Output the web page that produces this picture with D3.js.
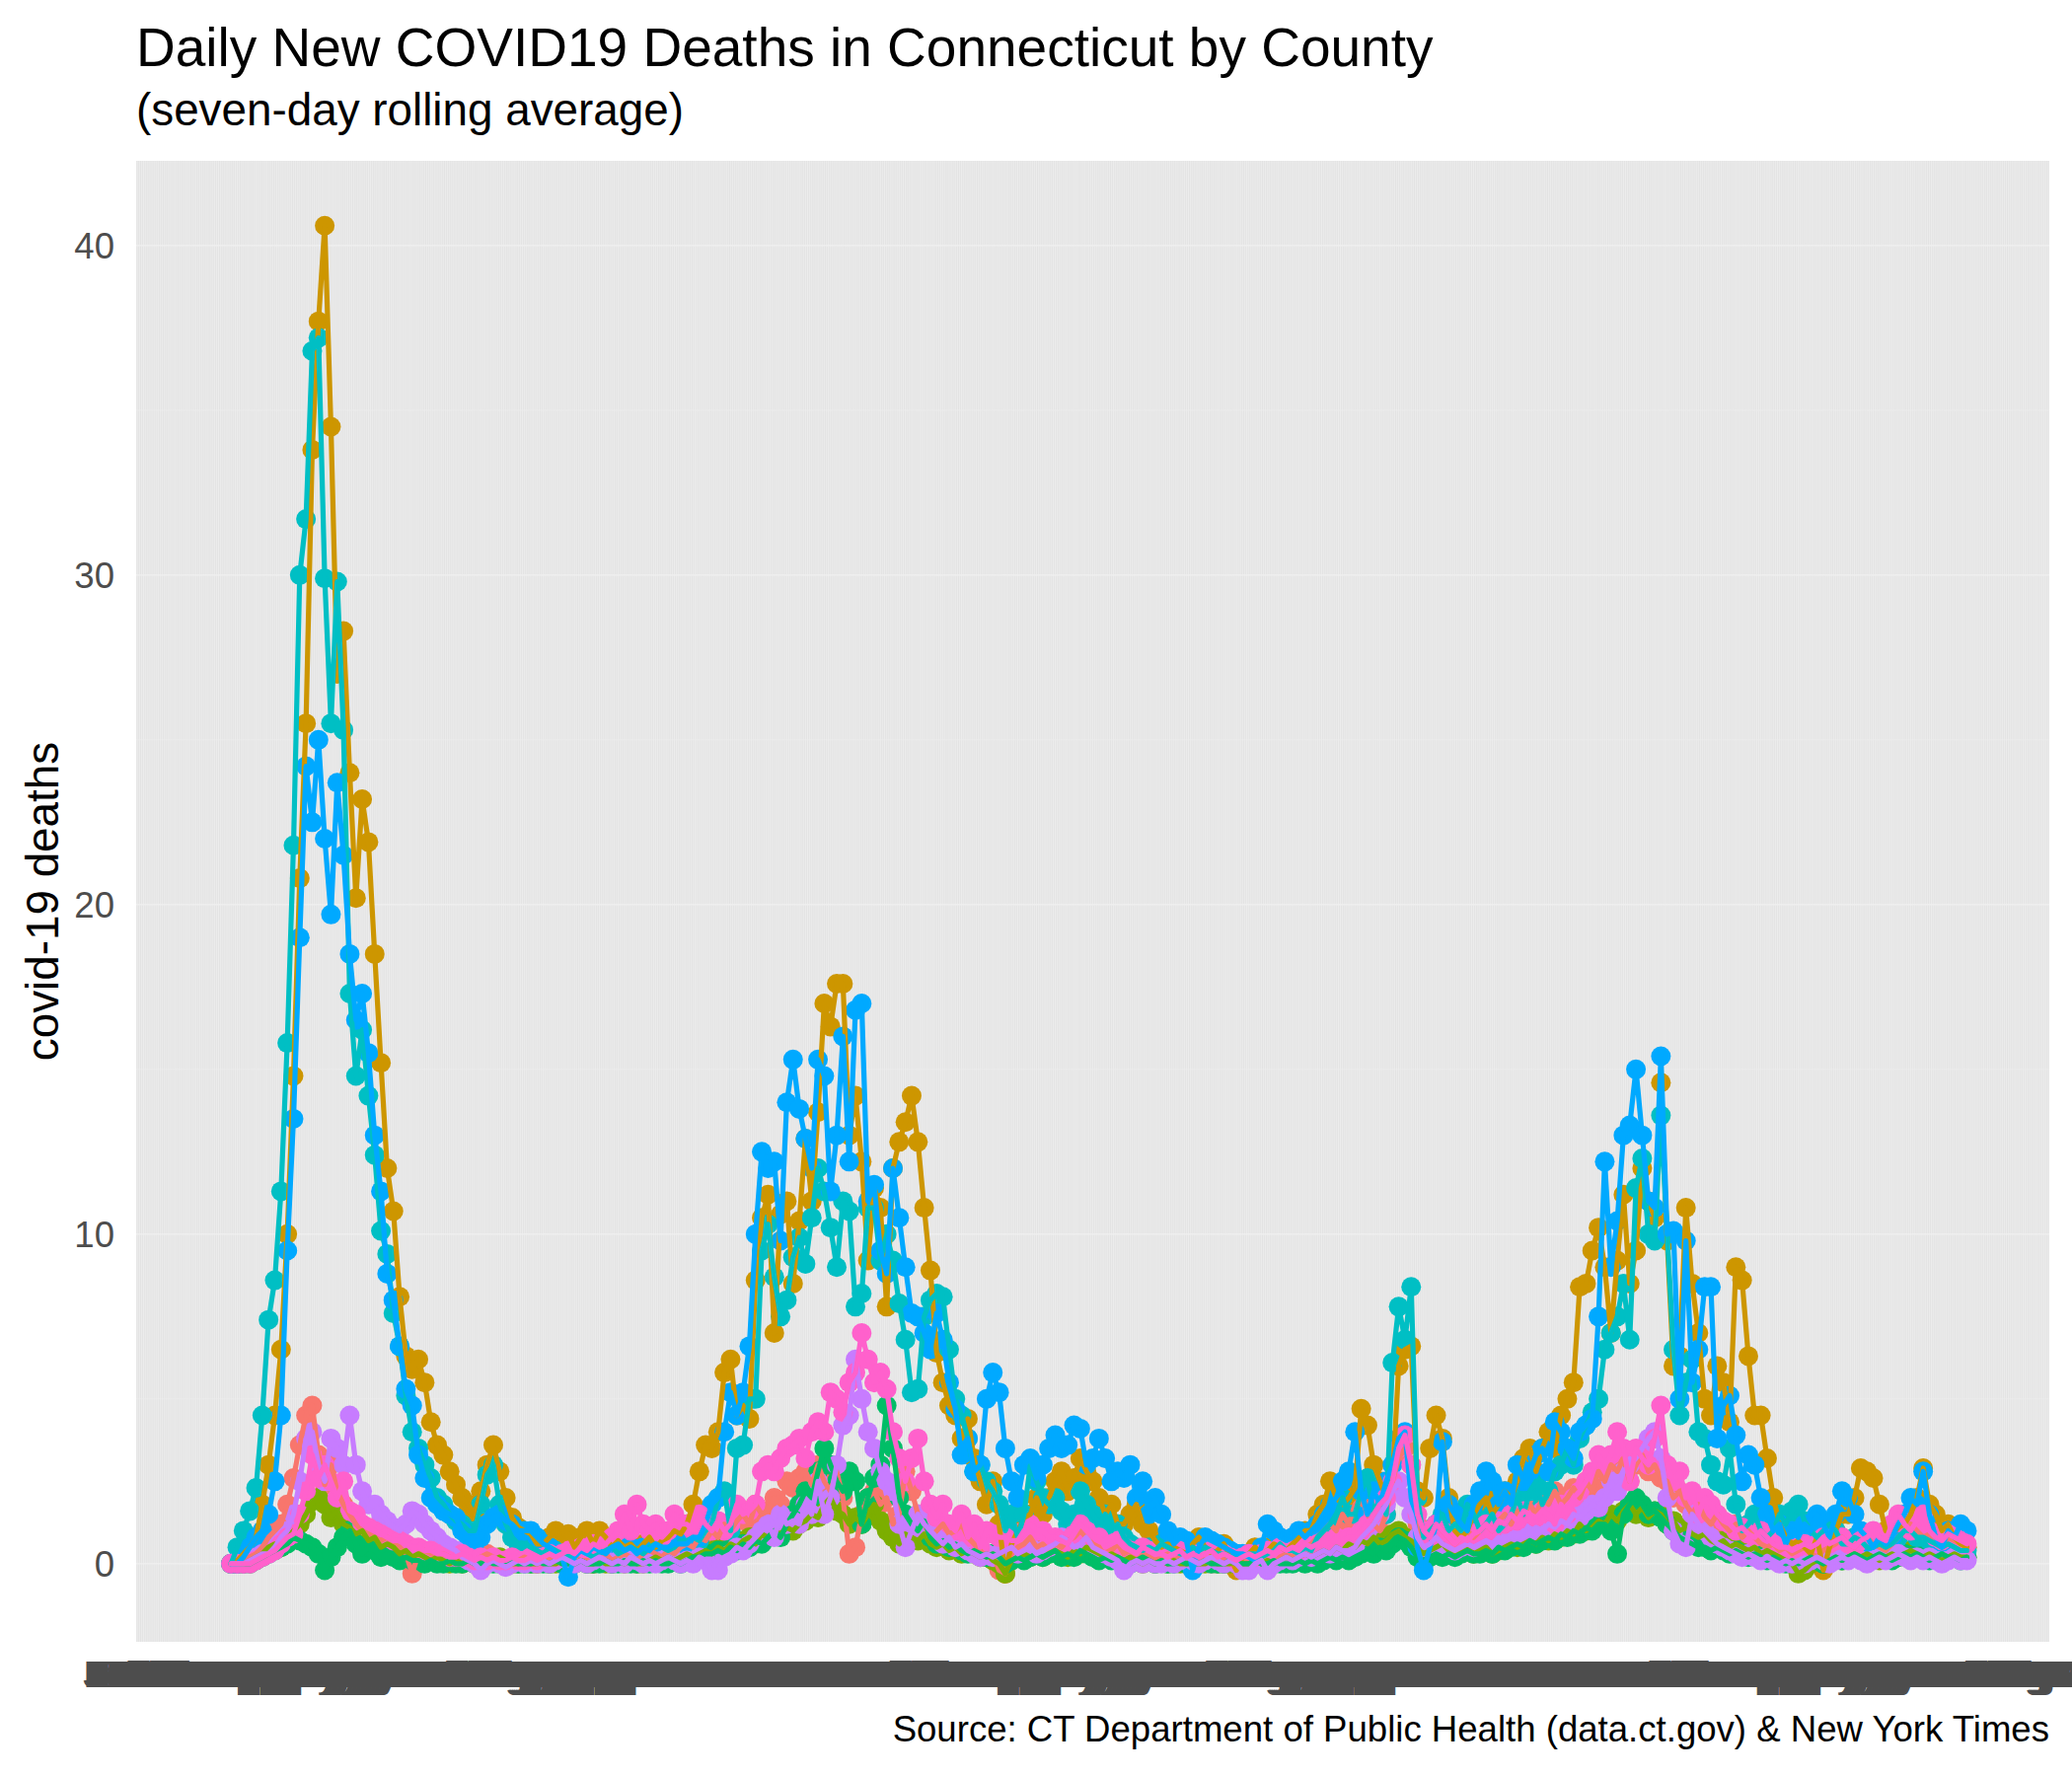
<!DOCTYPE html>
<html><head><meta charset="utf-8">
<script src="https://cdn.jsdelivr.net/npm/d3@7"></script>
<style>
body{margin:0;background:#fff}
svg{display:block}
text{font-family:"Liberation Sans",Arial,Helvetica,sans-serif}
</style>
</head><body>
<svg id="chart" width="2100" height="1800"></svg>
<script>
// ---------- categories (every calendar day on the discrete x axis) ----------
const firstDay = "2020-01-31";
const lastDay  = "2022-08-06";
// series values are read every 3rd day starting at this date
const sampleStart = "2020-03-16";
const sampleStep = 3;

const countyNames = ["Fairfield","Hartford","Litchfield","Middlesex","New Haven","New London","Tolland","Windham"];
const yTicks = [0, 10, 20, 30, 40];

const titleText = "Daily New COVID19 Deaths in Connecticut by County";
const subtitleText = "(seven-day rolling average)";
const yTitleText = "covid-19 deaths";
const captionText = "Source: CT Department of Public Health (data.ct.gov) & New York Times";

// ---------- series values (seven-day rolling average of daily deaths) ----------
const fairfield = [
0,0,0.1,0.2,0.3,0.5,0.8,1.0,1.2,1.8,
2.6,3.6,4.5,4.8,3.3,2.4,3.0,2.2,1.8,1.5,
1.2,1.0,0.9,0.8,0.7,0.8,0.6,0.5,0.3,-0.3,
0.3,0.4,0.3,0.2,0.3,0.2,0.1,0.2,0.1,0.0,
0.2,0.3,0.2,0.1,0.1,0.0,0.1,0.2,0.1,0.0,
0.1,0.2,0.1,0.0,0.1,0.2,0.1,0.1,0.0,0.2,
0.3,0.1,0.2,0.3,0.2,0.1,0.3,0.4,0.3,0.2,
0.4,0.3,0.5,0.6,0.5,0.8,0.7,1.0,0.8,1.2,
1.0,1.3,1.5,1.2,1.8,1.5,1.6,2.0,1.8,2.5,
2.3,2.6,2.8,2.4,3.0,2.5,2.2,2.8,2.0,0.3,
0.5,1.5,2.0,2.2,1.8,2.0,1.2,1.5,2.8,2.2,
1.5,1.2,0.8,1.0,1.2,0.9,1.0,1.2,0.8,0.6,
0.4,0.2,0.3,-0.2,-0.3,0.3,0.5,0.6,0.8,0.5,
0.6,0.4,0.6,0.5,0.7,0.8,1.0,0.8,0.6,0.5,
0.5,0.4,0.6,0.3,0.4,0.2,0.3,0.2,0.1,0.2,
0.3,0.1,0.2,0.0,0.1,0.2,0.1,0.0,0.1,0.2,
0.1,0.0,0.1,0.0,0.1,0.2,0.1,0.0,0.2,0.3,
0.2,0.4,0.5,0.6,0.8,1.0,1.2,1.0,1.5,1.2,
1.8,2.0,1.5,1.2,1.0,1.5,2.5,3.2,3.5,3.0,
1.2,0.8,1.0,1.2,1.0,0.8,0.6,0.8,1.0,0.8,
1.0,1.2,1.0,1.3,1.5,1.2,1.6,1.5,1.8,1.5,
2.0,1.8,2.2,1.8,2.0,2.3,2.0,2.5,2.2,2.8,
2.5,3.0,2.8,3.2,2.5,3.0,3.3,2.8,3.0,2.6,
2.5,2.0,2.2,1.8,1.5,1.8,1.4,1.2,1.5,1.2,
1.0,1.2,0.8,1.0,0.8,0.6,0.5,0.6,0.4,0.5,
0.3,0.4,0.5,0.3,0.2,0.4,0.5,0.6,0.8,0.6,
0.5,0.7,0.8,0.6,0.5,0.4,0.6,0.8,1.0,1.2,
1.0,0.8,0.9,0.7,0.6,0.8,0.7,0.6,0.5];

const hartford = [
0,0.1,0.3,0.5,0.8,1.8,3.0,4.5,6.5,10.0,
14.8,20.8,25.5,33.8,37.7,40.6,34.5,27.0,28.3,24.0,
20.2,23.2,21.9,18.5,15.2,12.0,10.7,8.1,6.3,5.9,
6.2,5.5,4.3,3.6,3.3,2.8,2.4,2.0,1.8,1.5,
2.2,3.0,3.6,2.8,2.0,1.4,1.1,1.0,0.9,0.6,
0.6,0.8,1.0,0.7,0.9,0.5,0.8,1.0,0.6,1.0,
0.8,0.5,0.7,0.5,0.6,0.4,0.6,0.8,0.5,0.7,
0.8,1.0,0.9,1.2,1.8,2.8,3.6,3.5,4.0,5.8,
6.2,4.5,4.8,4.4,8.6,10.5,11.2,7.0,10.6,11.0,
8.5,10.4,12.9,11.0,13.7,17.0,16.3,17.6,17.6,13.0,
14.2,12.2,9.2,11.4,10.8,7.8,12.0,12.8,13.4,14.2,
12.8,10.8,8.9,6.4,5.5,4.8,4.5,3.8,4.4,3.2,
2.5,1.8,2.5,1.2,-0.3,0.6,1.0,1.4,1.5,2.0,
1.5,2.0,2.5,2.8,2.2,2.6,3.2,2.8,2.5,2.0,
1.5,1.8,1.2,1.2,1.5,1.8,1.2,1.0,0.7,0.5,
0.6,0.5,0.4,0.3,0.6,0.8,0.5,0.3,0.4,0.6,
0.2,-0.2,0.2,0.3,0.5,0.3,0.4,0.6,0.5,0.4,
0.6,0.8,1.0,1.0,1.5,1.8,2.5,2.0,1.8,2.0,
2.3,4.7,4.2,3.0,2.5,2.0,2.5,6.0,6.5,6.6,
2.2,2.0,3.5,4.5,3.8,2.0,1.0,0.8,1.0,1.5,
1.8,2.0,1.5,1.8,2.2,2.0,2.5,3.2,3.5,2.8,
3.5,4.0,3.5,4.5,5.0,5.5,8.4,8.5,9.5,10.2,
9.0,7.0,9.2,11.2,8.5,9.5,12.0,11.0,10.5,14.6,
9.8,6.0,6.3,10.8,8.5,7.0,5.0,4.5,6.0,5.5,
4.3,9.0,8.6,6.3,4.5,4.5,3.2,2.0,1.2,0.8,
0.6,0.7,0.5,0.3,0.8,-0.2,0.5,1.0,1.5,1.5,
2.0,2.9,2.8,2.6,1.8,1.0,0.9,1.1,1.2,1.5,
2.0,2.9,1.8,1.5,1.0,1.2,0.8,0.6,0.5];

const litchfield = [
0,0,0,0.1,0.2,0.3,0.5,0.6,0.5,0.8,
1.0,1.2,1.5,1.9,2.0,1.8,1.4,1.6,1.2,1.1,
0.9,1.0,0.7,0.8,0.5,0.6,0.5,0.3,0.4,0.2,
0.3,0.2,0.1,0.2,0.1,0.0,0.1,0.0,0.1,0.0,
0.1,0.0,0.1,0.2,0.1,0.0,0.0,0.1,0.0,0.0,
0.1,0.0,0.0,0.1,0.0,0.0,0.1,0.0,0.0,0.1,
0.0,0.0,0.1,0.0,0.1,0.0,0.0,0.1,0.2,0.1,
0.2,0.1,0.2,0.3,0.2,0.3,0.4,0.3,0.5,0.4,
0.6,0.5,0.7,0.8,0.6,0.9,0.8,1.0,0.9,1.1,
1.0,1.2,1.3,1.5,1.4,1.8,2.0,1.6,1.5,1.2,
1.4,1.2,1.5,1.8,1.3,1.0,0.8,0.6,0.9,0.8,
0.7,0.9,0.6,0.5,0.6,0.4,0.5,0.3,0.4,0.3,
0.2,0.3,0.1,0.0,-0.3,0.1,0.2,0.3,0.2,0.3,
0.2,0.3,0.4,0.3,0.2,0.4,0.3,0.5,0.4,0.3,
0.2,0.3,0.2,0.1,0.2,0.1,0.0,0.1,0.0,0.1,
0.0,0.1,0.0,0.0,0.1,0.0,0.0,0.1,0.0,0.0,
0.0,0.1,0.0,0.0,0.1,0.0,0.1,0.0,0.1,0.2,
0.1,0.2,0.3,0.2,0.3,0.4,0.3,0.5,0.4,0.6,
0.5,0.7,0.6,0.8,0.6,0.7,0.9,1.0,0.8,0.7,
0.5,0.3,0.4,0.5,0.6,0.4,0.3,0.4,0.5,0.3,
0.4,0.5,0.3,0.4,0.5,0.6,0.5,0.6,0.7,0.6,
0.8,0.7,0.9,0.8,1.0,0.9,1.2,1.0,1.1,1.3,
1.2,1.5,1.3,1.6,1.8,1.5,1.7,1.4,1.6,1.5,
1.2,1.3,1.0,1.1,0.9,0.8,0.9,0.7,0.6,0.7,
0.5,0.6,0.5,0.4,0.5,0.3,0.4,0.3,0.2,0.1,
0.0,-0.3,-0.2,0.0,0.1,0.0,0.1,0.2,0.1,0.2,
0.3,0.2,0.3,0.2,0.1,0.2,0.3,0.2,0.3,0.4,
0.3,0.2,0.3,0.2,0.1,0.2,0.3,0.2,0.2];

const middlesex = [
0,0,0,0,0.1,0.2,0.3,0.4,0.5,0.6,
0.8,0.7,0.6,0.5,0.3,-0.2,0.2,0.5,0.8,1.0,
0.6,0.3,0.5,0.4,0.2,0.3,0.2,0.1,0.2,0.1,
0.1,0.0,0.1,0.0,0.0,0.1,0.0,0.0,0.1,0.0,
0.0,0.1,0.0,0.0,0.0,0.1,0.0,0.0,0.0,0.1,
0.0,0.0,0.1,0.0,0.0,0.0,0.1,0.0,0.0,0.0,
0.1,0.0,0.0,0.1,0.0,0.0,0.1,0.0,0.1,0.0,
0.0,0.1,0.0,0.1,0.2,0.2,0.3,0.3,0.4,0.3,
0.5,0.4,0.6,0.5,0.7,0.6,0.8,1.0,0.8,1.2,
1.5,1.8,2.2,2.0,2.8,3.5,3.0,2.5,2.2,2.8,
2.5,1.2,2.0,2.6,3.0,4.8,3.5,2.0,1.5,1.2,
1.0,1.3,0.8,0.6,0.7,0.5,0.6,0.4,0.3,0.4,
0.3,0.2,0.3,0.2,0.0,0.1,0.2,0.1,0.2,0.3,
0.2,0.3,0.4,0.2,0.3,0.2,0.4,0.3,0.2,0.1,
0.2,0.1,0.2,0.1,0.0,0.1,0.2,0.1,0.0,0.1,
0.0,0.0,0.1,0.0,0.0,0.0,0.1,0.0,0.0,0.0,
0.1,0.0,0.0,0.0,0.1,0.0,0.0,0.1,0.0,0.0,
0.0,0.1,0.0,0.1,0.0,0.1,0.2,0.1,0.2,0.1,
0.2,0.3,0.4,0.3,0.5,0.4,0.6,0.8,0.7,0.5,
0.2,0.0,0.2,0.3,0.2,0.3,0.2,0.3,0.4,0.3,
0.3,0.4,0.3,0.5,0.4,0.5,0.6,0.5,0.7,0.6,
0.7,0.8,0.7,0.9,0.8,1.0,0.9,1.1,1.0,1.2,
1.2,1.0,0.3,1.5,1.8,2.0,1.8,1.5,1.6,1.4,
1.2,1.0,0.8,0.7,0.6,0.5,0.5,0.4,0.5,0.4,
0.3,0.4,0.3,0.2,0.3,0.2,0.1,0.2,0.1,0.0,
0.1,0.0,0.1,0.2,0.1,0.0,0.1,0.2,0.1,0.2,
0.3,0.2,0.1,0.2,0.3,0.2,0.1,0.2,0.3,0.2,
0.3,0.2,0.1,0.2,0.3,0.2,0.2,0.1,0.2];

const newHaven = [
0,0.5,1.0,1.6,2.3,4.5,7.4,8.6,11.3,15.8,
21.8,30.0,31.7,36.8,37.2,29.9,25.5,29.8,25.3,17.3,
14.8,16.2,14.2,12.4,10.1,9.4,7.6,6.6,5.1,4.0,
3.5,3.0,2.6,2.0,1.8,1.5,1.3,1.2,1.0,1.0,
1.8,2.7,3.0,1.8,1.2,0.8,0.6,0.6,0.5,0.4,
0.3,0.5,0.4,0.3,0.2,0.3,0.4,0.3,0.2,0.3,
0.4,0.5,0.3,0.4,0.5,0.4,0.3,0.5,0.6,0.5,
0.4,0.5,0.7,0.7,0.8,0.7,1.0,1.2,2.0,2.2,
1.0,3.5,3.6,5.0,5.0,9.5,10.3,8.7,7.5,8.0,
9.3,9.9,9.1,10.5,12.0,11.3,10.2,9.0,11.0,10.7,
7.8,8.2,10.8,10.8,9.2,10.0,9.2,7.9,6.8,5.2,
5.3,7.5,8.0,8.2,8.1,6.5,5.0,4.5,3.8,2.8,
3.0,2.5,2.2,1.8,1.0,1.5,0.8,1.5,3.0,2.5,
2.0,1.8,2.0,1.6,1.2,1.5,2.2,1.8,1.5,1.2,
1.5,1.0,1.2,0.8,0.6,0.5,0.4,0.5,0.4,0.6,
0.5,0.4,0.3,0.3,0.5,0.4,0.5,0.4,0.3,0.3,
0.2,0.3,0.2,0.3,0.3,0.2,0.3,0.4,0.6,0.4,
0.4,0.3,0.5,0.4,0.8,1.0,1.2,1.5,2.0,1.5,
1.5,2.2,2.6,1.5,2.0,1.5,6.1,7.8,6.8,8.4,
2.0,0.8,1.0,1.2,1.5,1.0,1.2,1.0,1.8,1.5,
1.0,1.2,1.5,1.0,1.2,1.5,2.0,1.5,2.2,2.5,
1.8,2.2,2.8,3.0,3.5,3.0,3.8,4.2,4.6,5.0,
6.5,7.0,7.5,8.5,6.8,11.4,12.3,10.0,9.8,13.6,
10.0,6.5,4.5,5.5,6.2,4.0,3.8,3.0,2.5,2.4,
3.5,1.8,1.0,1.2,1.5,1.0,0.8,1.0,1.5,1.2,
1.6,1.8,1.3,1.0,0.8,1.0,1.2,1.0,0.6,0.6,
0.8,0.7,0.5,0.5,0.6,0.5,0.6,0.8,1.0,1.0,
0.8,0.8,0.7,0.6,0.5,0.6,0.5,0.4,0.4];

const newLondon = [
0,0,0.2,0.5,0.8,1.0,1.5,2.5,4.5,9.5,
13.5,19.0,24.2,22.5,25.0,22.0,19.7,23.7,21.5,18.5,
16.5,17.3,15.5,13.0,11.3,8.8,8.0,6.6,5.3,4.8,
3.3,2.6,2.0,1.8,1.6,1.5,1.4,1.0,0.8,0.6,
0.8,1.2,1.4,1.5,1.3,1.2,1.0,1.0,1.0,0.8,
0.6,0.5,0.3,0.2,-0.4,0.2,0.4,0.3,0.5,0.4,
0.3,0.5,0.6,0.4,0.5,0.3,0.5,0.4,0.6,0.5,
0.5,0.6,0.6,0.6,0.8,0.8,1.2,1.8,2.0,4.0,
5.2,4.5,5.2,6.6,10.0,12.5,12.0,12.2,9.8,14.0,
15.3,13.8,12.9,12.0,15.3,14.8,11.3,13.0,16.0,12.2,
16.8,17.0,11.0,11.5,9.5,8.8,12.0,10.5,9.0,7.6,
7.5,7.0,6.5,7.6,6.8,5.5,4.7,3.3,3.8,2.8,
3.0,5.0,5.8,5.2,3.5,2.5,2.0,3.0,3.2,2.6,
3.0,3.5,3.9,3.5,3.6,4.2,4.1,3.0,3.2,3.8,
3.2,2.5,2.8,2.6,3.0,2.0,2.5,1.5,2.0,1.5,
1.0,0.6,0.8,0.7,-0.2,0.5,0.8,0.7,0.6,0.5,
0.4,0.3,0.3,0.2,0.1,0.5,1.2,1.0,0.8,0.7,
0.8,1.0,0.8,1.0,1.2,1.5,1.8,2.0,2.5,2.8,
4.0,2.2,1.5,2.2,1.8,2.5,3.0,3.8,4.0,2.0,
0.5,-0.2,0.5,1.2,3.7,1.8,1.5,1.2,1.0,1.8,
2.2,2.8,2.5,1.8,2.2,1.8,3.0,2.5,2.8,3.3,
3.5,2.8,4.3,4.0,3.5,3.2,4.0,4.2,4.4,7.5,
12.2,9.0,10.4,13.0,13.3,15.0,13.0,11.0,10.8,15.4,
10.0,10.1,5.0,9.8,5.5,6.5,8.4,8.4,3.8,4.8,
5.1,3.9,2.5,3.3,3.0,2.0,1.5,1.0,1.2,0.6,
1.0,0.8,1.2,1.0,1.5,1.2,0.8,1.5,2.2,2.0,
1.5,1.0,0.8,0.5,0.8,0.6,0.8,1.2,1.5,2.0,
1.8,2.8,1.5,0.8,0.5,1.0,0.8,1.2,1.0];

const tolland = [
0,0,0,0.1,0.2,0.3,0.3,0.5,0.8,1.0,
1.5,2.5,3.8,4.0,3.0,2.5,3.8,3.5,3.0,4.5,
3.0,2.2,1.8,1.8,1.5,1.3,1.1,1.0,1.2,1.6,
1.5,1.2,1.0,0.8,0.6,0.5,0.4,0.2,0.1,0.0,
-0.2,0.0,0.1,0.0,-0.1,0.0,0.1,0.0,0.1,0.0,
0.1,0.0,0.1,0.2,0.1,0.0,0.1,0.0,0.1,0.2,
0.1,0.0,0.1,0.0,0.2,0.1,0.0,0.1,0.0,0.1,
0.2,0.1,0.0,0.1,0.0,0.2,0.1,-0.2,-0.2,0.2,
0.3,0.5,0.4,0.6,0.8,1.0,1.2,0.8,1.5,1.2,
1.3,1.2,1.8,1.5,2.5,1.5,2.0,3.0,4.2,4.5,
6.2,5.0,4.0,3.5,2.8,2.5,2.2,1.2,0.5,1.0,
1.5,1.2,1.0,0.8,0.6,0.8,0.5,0.6,0.4,0.3,
0.2,0.3,0.2,0.3,0.4,0.5,0.3,0.4,0.5,0.3,
0.4,0.5,0.6,0.8,0.7,0.5,0.6,0.8,0.5,0.4,
0.3,0.2,0.1,-0.2,0.0,0.1,0.0,0.1,0.0,0.0,
0.1,0.0,0.1,0.2,0.1,0.0,0.1,0.2,0.1,0.0,
0.1,0.0,-0.2,-0.2,0.0,0.1,-0.2,0.0,0.1,0.2,
0.1,0.2,0.3,0.2,0.3,0.4,0.3,0.5,0.4,0.4,
0.5,0.8,1.0,1.2,1.5,1.8,2.2,2.5,2.0,1.5,
0.8,0.5,0.6,0.8,0.6,0.5,0.4,0.5,0.6,0.5,
0.6,0.7,0.6,0.8,0.7,0.9,0.8,1.0,0.9,1.1,
1.0,1.2,1.1,1.3,1.2,1.5,1.4,1.6,1.8,1.7,
2.0,2.5,2.2,2.8,3.0,3.2,3.5,3.8,4.0,3.2,
2.0,1.0,0.6,0.5,1.5,1.2,1.0,0.8,0.6,0.5,
0.4,0.3,0.2,0.3,0.2,0.1,0.2,0.1,0.0,0.1,
0.0,0.1,0.0,0.1,0.2,0.1,0.0,0.1,0.2,0.1,
0.2,0.1,0.0,0.1,0.2,0.1,0.2,0.3,0.2,0.1,
0.2,0.1,0.2,0.1,0.0,0.1,0.2,0.1,0.1];

const windham = [
0,0,0,0,0.1,0.2,0.3,0.4,0.6,0.8,
0.9,1.5,2.2,3.3,2.6,3.0,2.5,2.0,2.5,1.6,
1.5,1.2,1.1,1.0,0.9,0.8,0.7,0.7,0.6,0.5,
0.5,0.4,0.4,0.3,0.3,0.2,0.2,0.3,0.2,0.1,
0.2,0.1,0.2,0.1,0.1,0.2,0.1,0.1,0.2,0.1,
0.2,0.3,0.2,0.3,0.4,0.3,0.5,0.4,0.6,0.5,
0.6,0.8,1.0,1.5,1.0,1.8,1.2,1.0,1.2,0.8,
1.0,1.5,1.2,1.2,1.0,1.5,1.2,1.0,1.3,1.0,
1.2,1.8,1.5,1.6,1.8,2.8,3.0,2.8,3.2,3.5,
3.6,3.8,3.2,4.0,4.3,4.0,5.2,5.0,4.6,5.5,
5.8,7.0,6.2,5.5,5.8,5.3,4.0,3.2,2.5,3.2,
3.8,2.5,1.8,1.4,1.8,1.2,1.0,1.5,0.8,1.2,
0.5,1.0,0.9,0.8,0.8,0.7,0.7,1.0,1.2,1.0,
1.0,0.8,0.8,0.7,0.6,0.9,1.2,1.0,0.8,0.8,
0.5,0.6,0.7,0.5,0.4,0.3,0.5,0.4,0.3,0.3,
0.2,0.3,0.4,0.2,0.3,0.2,0.3,0.4,0.2,0.3,
0.2,0.1,0.2,0.3,0.2,0.3,0.4,0.3,0.5,0.4,
0.5,0.4,0.6,0.5,0.6,0.7,0.6,0.8,0.7,0.8,
0.8,1.0,1.2,1.5,1.8,2.0,2.5,3.5,3.9,3.0,
1.5,1.0,0.8,1.2,1.0,0.8,0.6,0.8,0.7,0.9,
1.0,1.2,1.0,1.3,1.2,1.5,1.3,1.6,1.5,1.4,
1.6,1.5,1.2,1.8,1.5,2.0,2.2,2.5,2.8,3.3,
3.0,3.3,4.0,3.5,2.5,3.5,3.2,3.0,3.8,4.8,
3.0,2.5,2.8,2.0,2.2,1.5,2.0,1.8,1.5,1.3,
1.2,1.0,1.1,0.9,0.8,1.0,0.8,0.6,0.5,0.5,
0.4,0.5,0.6,0.5,0.6,0.8,0.6,0.7,0.8,0.6,
0.5,0.7,0.8,1.0,0.8,0.7,1.2,1.5,1.2,1.0,
1.3,1.5,1.0,0.8,0.7,0.9,0.8,0.7,0.6];

const seriesValues = [fairfield, hartford, litchfield, middlesex, newHaven, newLondon, tolland, windham];

// ---------- drawing ----------
const colors = ["#F8766D","#CD9600","#7CAE00","#00BE67","#00BFC4","#00A9FF","#C77CFF","#FF61CC"];
const W = 2100, H = 1800;
const P = {left: 138, top: 163, right: 2077, bottom: 1664};

const parse = d3.timeParse("%Y-%m-%d");
const key = d3.timeFormat("%Y-%m-%d");
const labelFmt = d3.timeFormat("%b %d");

const days = d3.timeDay.range(parse(firstDay), d3.timeDay.offset(parse(lastDay), 1));
const dayKeys = days.map(key);

const x = d3.scalePoint().domain(dayKeys).range([P.left, P.right]).padding(0.6);
const y = d3.scaleLinear().domain([-2.37, 42.57]).range([P.bottom, P.top]);

const svg = d3.select("#chart");
svg.append("rect").attr("width", W).attr("height", H).attr("fill", "#fff");

// panel
svg.append("rect").attr("x", P.left).attr("y", P.top)
  .attr("width", P.right - P.left).attr("height", P.bottom - P.top).attr("fill", "#E4E4E4");

const grid = svg.append("g");
grid.selectAll("line.v").data(dayKeys).join("line")
  .attr("x1", d => x(d)).attr("x2", d => x(d))
  .attr("y1", P.top).attr("y2", P.bottom)
  .attr("stroke", "#EDEDED").attr("stroke-width", 0.8);
const minor = [5, 15, 25, 35];
grid.selectAll("line.hm").data(minor).join("line")
  .attr("x1", P.left).attr("x2", P.right)
  .attr("y1", d => y(d)).attr("y2", d => y(d))
  .attr("stroke", "#EEEEEE").attr("stroke-width", 0.8);
grid.selectAll("line.h").data(yTicks).enter().append("line")
  .attr("x1", P.left).attr("x2", P.right)
  .attr("y1", d => y(d)).attr("y2", d => y(d))
  .attr("stroke", "#F0F0F0").attr("stroke-width", 1.4);

// build series
const start = parse(sampleStart);
const series = seriesValues.map((vals, s) => ({
  name: countyNames[s],
  color: colors[s],
  pts: vals.map((v, k) => ({k: key(d3.timeDay.offset(start, k * sampleStep)), v}))
}));

// points (all groups), then lines (all groups) on top
const gp = svg.append("g");
series.forEach(s => {
  gp.append("g").selectAll("circle").data(s.pts).join("circle")
    .attr("cx", d => x(d.k)).attr("cy", d => y(d.v)).attr("r", 10)
    .attr("fill", s.color);
});
const line = d3.line().x(d => x(d.k)).y(d => y(d.v));
const gl = svg.append("g");
series.forEach(s => {
  gl.append("path").datum(s.pts).attr("d", line)
    .attr("fill", "none").attr("stroke", s.color).attr("stroke-width", 5.2)
    .attr("stroke-linejoin", "round").attr("stroke-linecap", "round");
});

// y axis labels
svg.append("g").selectAll("text").data(yTicks).join("text")
  .attr("x", 116).attr("y", d => y(d)).attr("dy", "0.35em")
  .attr("text-anchor", "end").attr("font-size", 36.6).attr("fill", "#4D4D4D")
  .text(d => d);

// x axis labels (one per day, as on the original discrete axis)
svg.append("g").selectAll("text").data(days).join("text")
  .attr("x", d => x(key(d))).attr("y", 1710)
  .attr("text-anchor", "middle").attr("font-size", 36.6).attr("fill", "#4D4D4D")
  .text(d => labelFmt(d));

// titles
svg.append("text").attr("x", P.left).attr("y", 67).attr("font-size", 55).attr("fill", "#000").text(titleText);
svg.append("text").attr("x", P.left).attr("y", 127).attr("font-size", 45.8).attr("fill", "#000").text(subtitleText);
svg.append("text").attr("transform", `translate(59,${(P.top + P.bottom) / 2}) rotate(-90)`)
  .attr("text-anchor", "middle").attr("font-size", 45.8).attr("fill", "#000").text(yTitleText);
svg.append("text").attr("x", P.right).attr("y", 1765).attr("text-anchor", "end")
  .attr("font-size", 36.6).attr("fill", "#000").text(captionText);
</script>
</body></html>
